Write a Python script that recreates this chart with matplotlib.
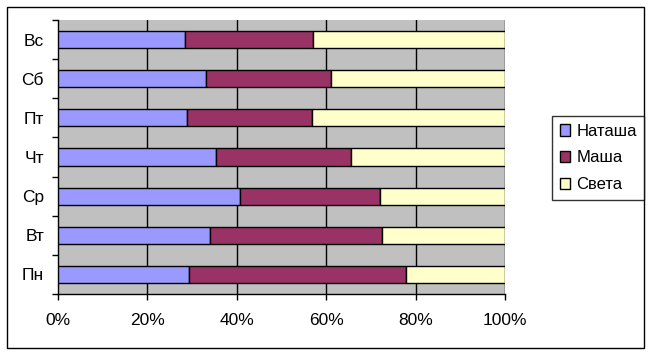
import matplotlib
matplotlib.use("Agg")
import matplotlib.pyplot as plt
from matplotlib.patches import Rectangle
import numpy as np

plt.rcParams['font.family'] = ['Liberation Sans', 'DejaVu Sans']

days = ["Пн", "Вт", "Ср", "Чт", "Пт", "Сб", "Вс"]
natasha = [29.3, 34.0, 40.7, 35.3, 28.9, 33.1, 28.4]
masha = [48.6, 38.5, 31.3, 30.2, 27.9, 28.0, 28.6]
sveta = [22.1, 27.5, 28.0, 34.5, 43.2, 38.9, 43.0]
series_names = ["Наташа", "Маша", "Света"]
colors = ["#9999FF", "#993366", "#FFFFCC"]
xticks = [0, 20, 40, 60, 80, 100]
xticklabels = ["0%", "20%", "40%", "60%", "80%", "100%"]

W, H = 652, 356
fig = plt.figure(figsize=(W / 100, H / 100), dpi=100)
fig.patch.set_facecolor("white")
fig.patches.append(Rectangle((7 / W, (H - 348) / H), 637 / W, 341 / H,
                             transform=fig.transFigure, fill=False,
                             edgecolor="black", linewidth=1.0))

ax = fig.add_axes([58 / W, 1 - 294 / H, (505 - 58) / W, (294 - 20) / H])
ax.set_facecolor("#C0C0C0")

data = np.array([natasha, masha, sveta])
tot = data.sum(axis=0)
pct = data / tot * 100
y = np.arange(len(days))
left = np.zeros(len(days))
for i in range(3):
    ax.barh(y, pct[i], left=left, height=0.44, color=colors[i],
            edgecolor="black", linewidth=1.0, label=series_names[i], zorder=3)
    left += pct[i]

ax.set_xlim(0, 100)
ax.set_ylim(-0.5, len(days) - 0.5)
ax.set_xticks(xticks)
ax.set_xticklabels(xticklabels, fontsize=12.5)
for xv in xticks[1:]:
    ax.axvline(xv, color="black", linewidth=1.0, zorder=1)
ax.set_yticks(y)
ax.set_yticklabels(days, fontsize=12.5)
ax.set_yticks(np.arange(-0.5, len(days)), minor=True)
ax.tick_params(axis="y", which="major", length=0, pad=10)
ax.tick_params(axis="y", which="minor", length=4, width=1, direction="out")
ax.tick_params(axis="x", length=4, width=1, direction="out", pad=10)
for s in ["top", "right"]:
    ax.spines[s].set_visible(False)
ax.spines["left"].set_linewidth(1.0)
ax.spines["bottom"].set_linewidth(1.0)

leg = fig.legend(loc="center left", bbox_to_anchor=(552 / W, 1 - 158 / H),
                 fontsize=12, frameon=True, fancybox=False,
                 handlelength=0.65, handleheight=0.65, handletextpad=0.35,
                 borderpad=0.45, labelspacing=0.7, borderaxespad=0)
leg.get_frame().set_edgecolor("black")
leg.get_frame().set_linewidth(1.0)

fig.savefig("out.png", dpi=100)
